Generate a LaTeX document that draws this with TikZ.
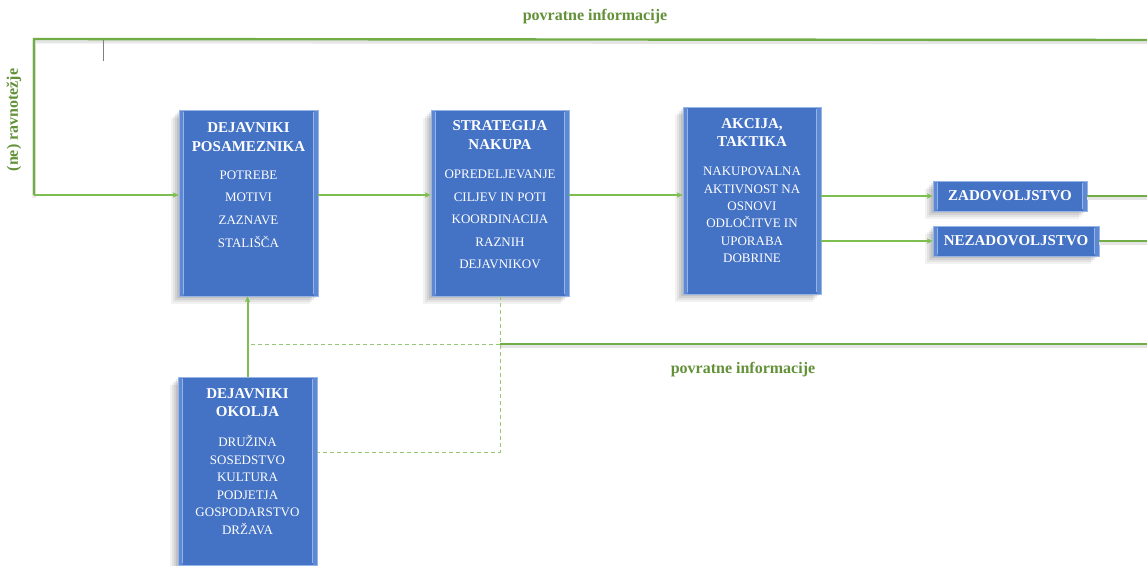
\documentclass[tikz,border=0pt]{standalone}
\usepackage{fontspec}
\setmainfont{Liberation Serif}
\usetikzlibrary{arrows.meta,shadows}

\definecolor{boxblue}{RGB}{68,114,196}
\definecolor{boxedge}{RGB}{150,180,230}
\definecolor{bevelblue}{RGB}{92,136,212}
\definecolor{linegreen}{RGB}{125,190,80}
\definecolor{fbgreen}{RGB}{112,173,71}
\definecolor{dashgreen}{RGB}{150,200,115}
\definecolor{lblgreen}{RGB}{98,145,56}

\newcommand\boxheadfont{\fontsize{15}{18.5}\selectfont\bfseries}

\tikzset{
  box/.style={rectangle, fill=boxblue, draw=boxedge, line width=0.8pt, inner sep=0pt,
    general shadow={fill=black, opacity=0.05, shadow xshift=-8pt, shadow yshift=-8pt},
    general shadow={fill=black, opacity=0.06, shadow xshift=-6pt, shadow yshift=-6pt},
    general shadow={fill=black, opacity=0.07, shadow xshift=-4pt, shadow yshift=-4pt},
    general shadow={fill=black, opacity=0.08, shadow xshift=-2pt, shadow yshift=-2pt},
    path picture={
      \fill[bevelblue] (path picture bounding box.north west) rectangle ([xshift=4.5pt]path picture bounding box.south west);
      \fill[bevelblue] (path picture bounding box.north east) rectangle ([xshift=-4.5pt]path picture bounding box.south east);
      \draw[boxedge, line width=0.6pt] ([xshift=4.5pt,yshift=-2pt]path picture bounding box.north west) -- ([xshift=4.5pt,yshift=2pt]path picture bounding box.south west);
      \draw[boxedge, line width=0.6pt] ([xshift=-4.5pt,yshift=-2pt]path picture bounding box.north east) -- ([xshift=-4.5pt,yshift=2pt]path picture bounding box.south east);
    }},
  head/.style={text=white, align=center, inner sep=0pt, font=\boxheadfont},
  items/.style={text=white, align=center, inner sep=0pt},
  conn/.style={draw=linegreen, line width=2pt},
  arr/.style={conn, -{Stealth[length=6pt,width=5.5pt]}},
  fb/.style={draw=fbgreen, line width=2.4pt,
    preaction={draw=black!10, line width=3.5pt, transform canvas={yshift=-2.5pt}}},
  dashln/.style={draw=dashgreen, line width=1pt, dash pattern=on 4pt off 3pt},
  lbl/.style={text=lblgreen, inner sep=0pt, font=\fontsize{16}{18}\selectfont\bfseries},
}

\begin{document}
\begin{tikzpicture}[x=1pt,y=-1pt]
\useasboundingbox[fill=white] (0,0) rectangle (1147,565);

% helper points for the feedback loops
\coordinate (tr) at (1154,39);
\coordinate (tl) at (34,39);
\coordinate (br) at (1154,344);
\coordinate (dj) at (500,452);
\coordinate (tk) at (103,40);

% feedback loops (drawn first, boxes cover their ends)
\draw[fb] (tk -| tr) -- (tl) -- (tl |- 0,195);
\draw[gray, line width=0.8pt] (tk) -- ++(0,21);

% boxes
\node[box, minimum width=139pt, minimum height=186pt] (pos) at (248.5,203) {};
\node[box, minimum width=138pt, minimum height=186pt] (str) at (500,203) {};
\node[box, minimum width=138pt, minimum height=187pt] (akc) at (752,200.5) {};
\node[box, minimum width=139pt, minimum height=188pt] (oko) at (247.5,471) {};
\node[box, minimum width=154pt, minimum height=30pt] (zad) at (1010,196) {};
\node[box, minimum width=166pt, minimum height=30pt] (nez) at (1016,241) {};

% box texts
\node[head] (posh) at (248.5,137) {DEJAVNIKI\\POSAMEZNIKA};
\node[items, font=\fontsize{13}{22.7}\selectfont] (post) at (248.5,209) {POTREBE\\MOTIVI\\ZAZNAVE\\STALIŠČA};

\node[head] (strh) at (500,135) {STRATEGIJA\\NAKUPA};
\node[items, font=\fontsize{13}{22.5}\selectfont] (strt) at (500,219.5) {OPREDELJEVANJE\\CILJEV IN POTI\\KOORDINACIJA\\RAZNIH\\DEJAVNIKOV};

\node[head] (akch) at (752,132.5) {AKCIJA,\\TAKTIKA};
\node[items, font=\fontsize{13}{17.4}\selectfont] (akct) at (752,215) {NAKUPOVALNA\\AKTIVNOST NA\\OSNOVI\\ODLOČITVE IN\\UPORABA\\DOBRINE};

\node[head] (okoh) at (247.5,402.5) {DEJAVNIKI\\OKOLJA};
\node[items, font=\fontsize{13}{17.6}\selectfont] (okot) at (247.5,485) {DRUŽINA\\SOSEDSTVO\\KULTURA\\PODJETJA\\GOSPODARSTVO\\DRŽAVA};

\node[head] (zadt) at (zad.center) {ZADOVOLJSTVO};
\node[head] (nezt) at (nez.center) {NEZADOVOLJSTVO};

% main flow
\draw[arr] (tl |- 0,195) -- ([yshift=8pt]pos.west);
\draw[arr] ([yshift=8pt]pos.east) -- ([yshift=8pt]str.west);
\draw[arr] ([yshift=8pt]str.east) -- ([yshift=8pt]str.east -| akc.west);
\draw[arr] (akc.east |- zad.west) -- (zad.west);
\draw[arr] (akc.east |- nez.west) -- (nez.west);

% outcomes feeding back
\draw[fb] (zad.east) -- (zad.east -| tr);
\draw[fb] (nez.east) -- (nez.east -| br) -- (br) -- (str.south |- br);

% environment influences
\draw[arr] (oko.north) -- (oko.north |- pos.south);
\draw[dashln] (str.south |- br) -- (br -| oko.north);
\draw[dashln] (str.south) -- (dj) -- (dj -| oko.east);

% labels
\node[lbl] (fbtop) at (595,17) {povratne informacije};
\node[lbl] (fbbot) at (743,370) {povratne informacije};
\node[lbl, rotate=90] (bal) at (14,120) {(ne) ravnotežje};
\end{tikzpicture}
\end{document}
